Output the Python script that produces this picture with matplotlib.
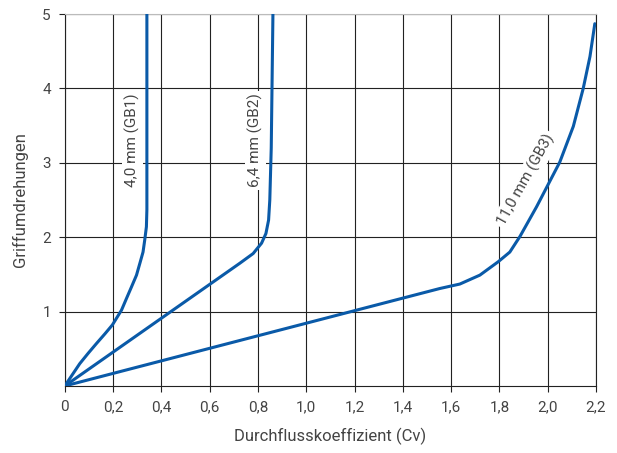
#Griffumdrehungen vs. Durchflusskoeffizient for three valve sizes
import numpy as np
from matplotlib import pyplot as plt

plt.rcParams['font.family'] = ['Roboto', 'DejaVu Sans']

#Curve data (Cv, turns)
gb1_cv = [0, 0.062, 0.097, 0.131, 0.166, 0.197, 0.235, 0.256, 0.276, 0.297, 0.311,
          0.324, 0.331, 0.338, 0.340, 0.340]
gb1_turns = [0, 0.30, 0.44, 0.57, 0.70, 0.82, 1.02, 1.18, 1.33, 1.49, 1.65,
             1.80, 1.96, 2.14, 2.37, 5.0]

gb2_cv = [0, 0.725, 0.78, 0.815, 0.833, 0.844, 0.849, 0.855, 0.862]
gb2_turns = [0, 1.65, 1.78, 1.92, 2.05, 2.23, 2.50, 3.2, 5.0]

gb3_cv = [0, 1.553, 1.636, 1.719, 1.795, 1.843, 1.885, 1.954, 2.05, 2.106, 2.147, 2.175, 2.195]
gb3_turns = [0, 1.31, 1.37, 1.49, 1.67, 1.80, 2.01, 2.41, 3.01, 3.49, 4.00, 4.43, 4.87]

x_ticks = [0, 0.2, 0.4, 0.6, 0.8, 1.0, 1.2, 1.4, 1.6, 1.8, 2.0, 2.2]
x_tick_labels = ['0', '0,2', '0,4', '0,6', '0,8', '1,0', '1,2', '1,4', '1,6', '1,8', '2,0', '2,2']
y_ticks = [1, 2, 3, 4, 5]
y_tick_labels = ['1', '2', '3', '4', '5']

line_color = '#0a5aa8'
text_color = '#444444'

fig = plt.figure(figsize=(6.17, 4.53), dpi=100)
ax = fig.add_axes([0.105, 0.148, 0.861, 0.821])

#Grid lines
ax.set_xticks(x_ticks)
ax.set_yticks(y_ticks)
ax.grid(True, color='#222222', linewidth=0.8)
ax.set_axisbelow(True)

#Curves
for cv, turns in [(gb1_cv, gb1_turns), (gb2_cv, gb2_turns), (gb3_cv, gb3_turns)]:
    ax.plot(cv, turns, color=line_color, linewidth=2.2, solid_capstyle='round',
            solid_joinstyle='round', zorder=3)

ax.set_xlim(0, 2.2)
ax.set_ylim(0, 5)

ax.set_xticklabels(x_tick_labels, fontsize=11, color=text_color)
ax.set_yticklabels(y_tick_labels, fontsize=11, color=text_color)
ax.tick_params(axis='both', length=4, color='#222222', width=0.8, pad=6)

ax.set_xlabel('Durchflusskoeffizient (Cv)', fontsize=12, color=text_color, labelpad=10)
ax.set_ylabel('Griffumdrehungen', fontsize=12, color=text_color, labelpad=10)

for side in ['left', 'bottom', 'right']:
    ax.spines[side].set_color('#222222')
    ax.spines[side].set_linewidth(0.8)
ax.spines['top'].set_color('#bbbbbb')

#Curve labels
box = dict(facecolor='white', edgecolor='none', pad=2)
ax.text(0.28, 3.3, '4,0 mm (GB1)', rotation=90, fontsize=11, color=text_color,
        ha='center', va='center', bbox=box, zorder=2)
ax.text(0.79, 3.3, '6,4 mm (GB2)', rotation=90, fontsize=11, color=text_color,
        ha='center', va='center', bbox=box, zorder=2)
ax.text(1.91, 2.77, '11,0 mm (GB3)', rotation=61, fontsize=11, color=text_color,
        ha='center', va='center', bbox=box, zorder=2)

plt.savefig('out.png', dpi=100)
